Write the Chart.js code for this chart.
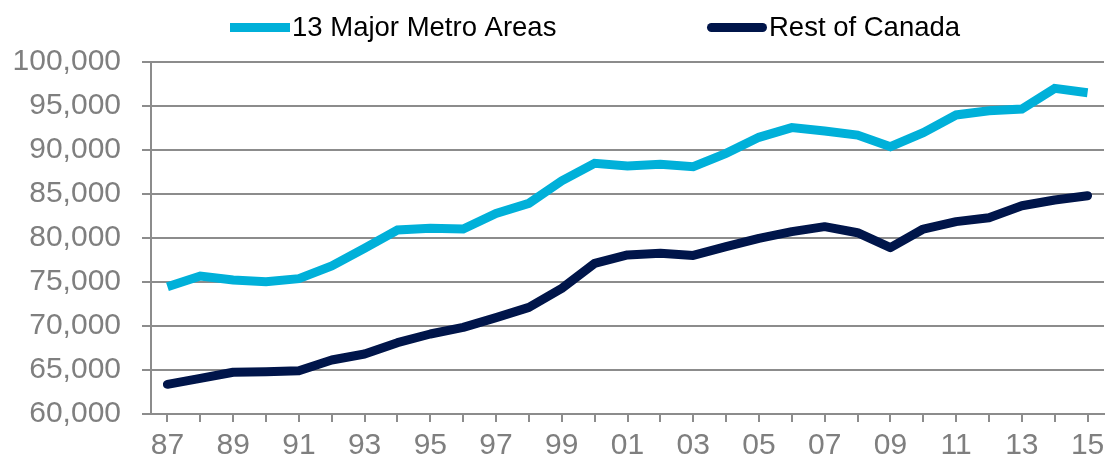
<!DOCTYPE html>
<html>
 <head>
  <title>Metro vs Rest of Canada</title>
  <style>
  body {
   margin: 0;
   background: #fff;
  }
  #wrap {
   width: 1105px;
   height: 462px;
  }
  </style>
 </head>
 <body>
 <div id="wrap"><canvas id="chart"></canvas></div>
 <script src="https://cdn.jsdelivr.net/npm/chart.js@4.4.1/dist/chart.umd.min.js"></script>
 <script type="text/javascript">
  // Years 1987-2015, labels shown as two digits
  const years = ['87','88','89','90','91','92','93','94','95','96','97','98','99','00',
                 '01','02','03','04','05','06','07','08','09','10','11','12','13','14','15'];

  // 13 Major Metro Areas
  const metro = [74450, 75680, 75230, 75030, 75380, 76820, 78830, 80910, 81100, 81020,
                 82800, 83940, 86500, 88480, 88180, 88370, 88100, 89620, 91440, 92540,
                 92160, 91700, 90380, 91970, 93980, 94470, 94660, 97000, 96510];

  // Rest of Canada
  const rest = [63370, 64050, 64740, 64810, 64920, 66140, 66820, 68100, 69090, 69850,
                70950, 72120, 74280, 77120, 78070, 78260, 78020, 79010, 79960, 80720,
                81290, 80600, 78900, 81020, 81860, 82310, 83670, 84320, 84810];

  const axisGray = '#8c8c8c';
  const labelGray = '#7f7f7f';

  // Legend drawn at fixed spots above the plot, like the original
  const topLegend = {
   id: 'topLegend',
   afterDraw(chart) {
    const ctx = chart.ctx;
    const starts = [230, 707];
    ctx.save();
    ctx.font = '27.5px "Liberation Sans", Arial, sans-serif';
    ctx.textBaseline = 'middle';
    ctx.fillStyle = '#000';
    chart.data.datasets.forEach((ds, i) => {
     const x = starts[i];
     const y = 27.5;
     ctx.beginPath();
     ctx.strokeStyle = ds.borderColor;
     ctx.lineWidth = 9;
     ctx.lineCap = ds.borderCapStyle;
     const inset = ds.borderCapStyle === 'round' ? 4.5 : 0;
     ctx.moveTo(x + inset, y);
     ctx.lineTo(x + 60 - inset, y);
     ctx.stroke();
     ctx.fillText(ds.label, x + 62, y + 1);
    });
    ctx.restore();
   }
  };

  const ctx = document.getElementById('chart').getContext('2d');
  const chart = new Chart(ctx, {
   type: 'line',
   data: {
    labels: years,
    datasets: [{
     label: '13 Major Metro Areas',
     data: metro,
     borderColor: '#00b0d9',
     borderWidth: 9,
     borderCapStyle: 'butt',
     borderJoinStyle: 'miter',
     pointRadius: 0,
     tension: 0,
     fill: false
    }, {
     label: 'Rest of Canada',
     data: rest,
     borderColor: '#00154a',
     borderWidth: 9,
     borderCapStyle: 'round',
     borderJoinStyle: 'round',
     pointRadius: 0,
     tension: 0,
     fill: false
    }]
   },
   plugins: [topLegend],
   options: {
    responsive: true,
    maintainAspectRatio: false,
    animation: false,
    layout: {
     padding: { top: 62, right: 1, bottom: 0, left: 0 }
    },
    plugins: {
     legend: { display: false },
     tooltip: { enabled: false }
    },
    scales: {
     x: {
      offset: true,
      afterFit: function(scale) { scale.height = 48; },
      grid: {
       offset: false,
       drawOnChartArea: false,
       drawTicks: true,
       tickLength: 8,
       color: axisGray,
       lineWidth: 2
      },
      border: { color: axisGray, width: 2 },
      ticks: {
       autoSkip: false,
       maxRotation: 0,
       padding: 0,
       color: labelGray,
       font: { family: '"Liberation Sans", Arial, sans-serif', size: 30, lineHeight: 1.6 },
       callback: function(val, i) { return i % 2 === 0 ? years[i] : ''; }
      }
     },
     y: {
      min: 60000,
      max: 100000,
      afterFit: function(scale) { scale.width = 151; },
      grid: {
       color: axisGray,
       lineWidth: 2,
       drawTicks: true,
       tickLength: 9
      },
      border: { color: axisGray, width: 2 },
      ticks: {
       stepSize: 5000,
       padding: 21,
       color: labelGray,
       font: { family: '"Liberation Sans", Arial, sans-serif', size: 30 },
       callback: function(v) { return v.toLocaleString('en-US'); }
      }
     }
    }
   }
  });
 </script>
 </body>
</html>
